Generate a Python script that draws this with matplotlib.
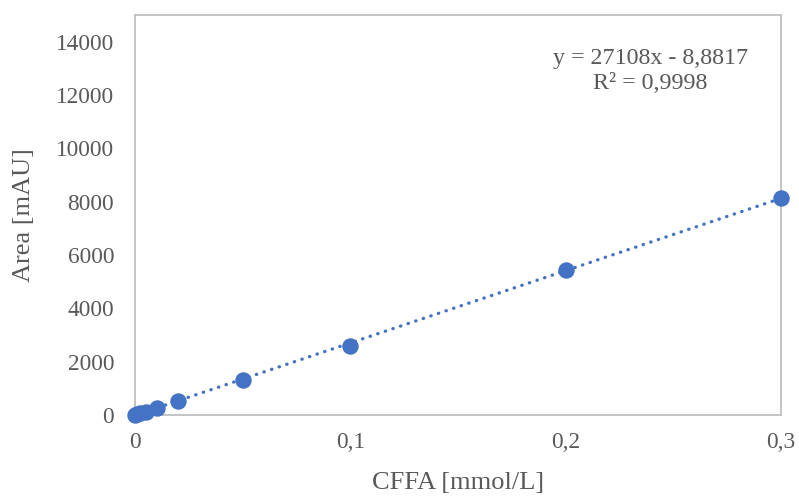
import matplotlib
matplotlib.use('Agg')
import matplotlib.pyplot as plt
import numpy as np

# calibration data
conc = [0, 0.001, 0.0025, 0.005, 0.01, 0.02, 0.05, 0.1, 0.2, 0.3]
area = [5, 25, 60, 130, 270, 530, 1310, 2600, 5450, 8140]
slope = 27108
intercept = -8.8817
eq_text = 'y = 27108x - 8,8817\nR² = 0,9998'

yticks = [0, 2000, 4000, 6000, 8000, 10000, 12000, 14000]
xticks = [0, 0.1, 0.2, 0.3]
xticklabels = ['0', '0,1', '0,2', '0,3']

plt.rcParams['font.family'] = ['Liberation Serif', 'DejaVu Serif']
grey = '#595959'
blue = '#4472C4'

fig = plt.figure(figsize=(7.99, 4.97), dpi=100)
ax = fig.add_axes([0.169, 0.165, 0.8085, 0.805])

xs = np.array([min(conc), max(conc)])
ax.plot(xs, slope * xs + intercept, color=blue, lw=2.4, linestyle=(0, (0.1, 2.3)),
        dash_capstyle='round', zorder=2)
ax.scatter(conc, area, s=140, color=blue, zorder=3, linewidths=0, clip_on=False)

ax.set_xlim(0, 0.3)
ax.set_ylim(0, 15000)
ax.set_xticks(xticks)
ax.set_xticklabels(xticklabels)
ax.set_yticks(yticks)
ax.tick_params(length=0, labelsize=16.8, labelcolor=grey)
ax.tick_params(axis='y', pad=15)
ax.tick_params(axis='x', pad=12)
for s in ax.spines.values():
    s.set_color('#BFBFBF')
    s.set_linewidth(1.3)

ax.set_xlabel('CFFA [mmol/L]', fontsize=19, color=grey, labelpad=14)
ax.set_ylabel('Area [mAU]', fontsize=19, color=grey, labelpad=15)

ax.text(0.798, 0.86, eq_text, transform=ax.transAxes, ha='center', va='center',
        fontsize=17.3, color=grey, linespacing=1.3)

fig.savefig('out.png', dpi=100)
